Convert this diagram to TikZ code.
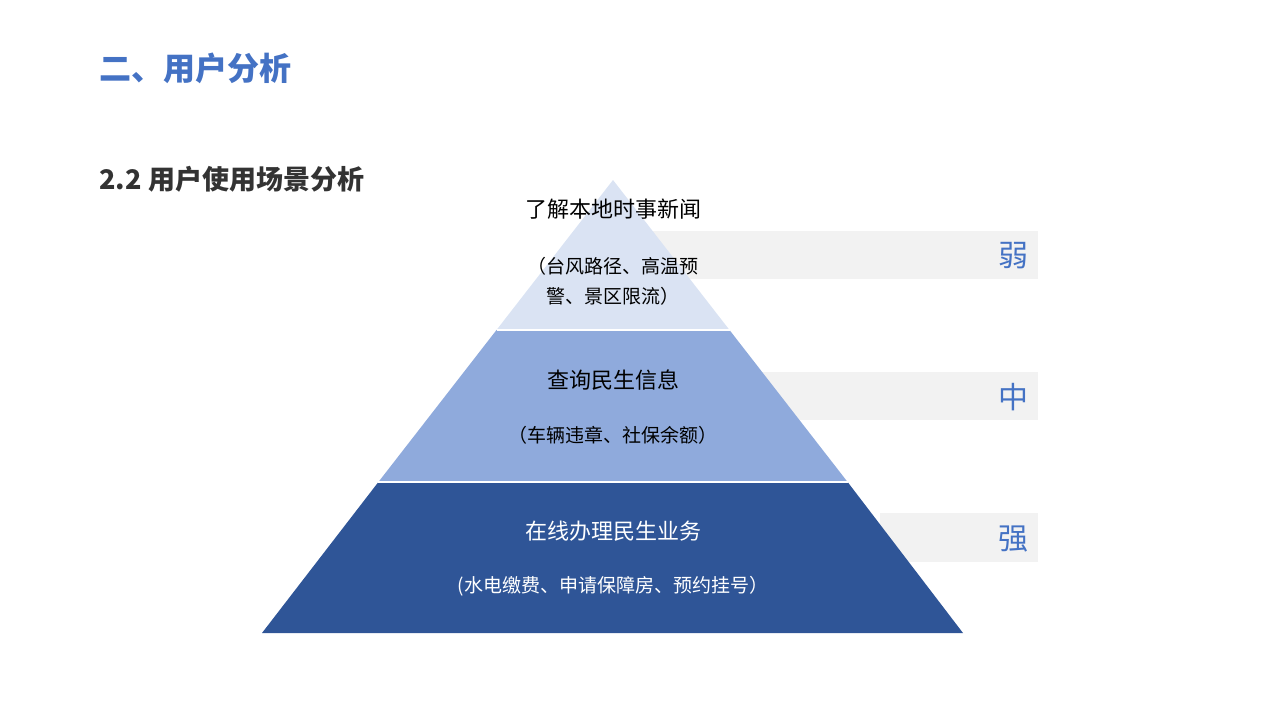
\documentclass[tikz,border=0pt]{standalone}
\usepackage{fontspec}
\setmainfont{Noto Sans CJK SC}
\definecolor{tblue}{HTML}{4472C4}
\definecolor{lay1}{HTML}{DAE3F3}
\definecolor{lay2}{HTML}{8FAADC}
\definecolor{lay3}{HTML}{2F5597}
\definecolor{barg}{HTML}{F2F2F2}
\begin{document}
\begin{tikzpicture}[x=1pt,y=-1pt,
  bar/.style={fill=barg,draw=none},
  lvl/.style={text=tblue,font=\fontsize{30}{32}\selectfont},
  head/.style={font=\fontsize{22}{26}\selectfont},
  sub/.style={font=\fontsize{19}{30}\selectfont,align=center}]
\useasboundingbox (0,0) rectangle (1280,720);
\node[anchor=west,text=tblue,font=\bfseries\fontsize{32}{36}\selectfont] (t) at (96,68) {二、用户分析};
\node[anchor=west,text=black!80,font=\bfseries\fontsize{27}{30}\selectfont] (s) at (96,179) {2.2 用户使用场景分析};
% bars
\fill[bar] (613,231) rectangle (1038,279);
\fill[bar] (613,372) rectangle (1038,420);
\fill[bar] (880,513) rectangle (1038,562);
\node[lvl] (w) at (1013,256) {弱};
\node[lvl] (m) at (1013,397) {中};
\node[lvl] (q) at (1013,539) {强};
% pyramid
\fill[lay1] (613,180) -- (729.5,330) -- (496.5,330) -- cycle;
\fill[lay2] (496.5,330) -- (729.5,330) -- (847.6,482) -- (378.4,482) -- cycle;
\fill[lay3] (378.4,482) -- (847.6,482) -- (963,633) -- (262,633) -- cycle;
\draw[white,line width=1.5pt] (496.5,330) -- (729.5,330);
\draw[white,line width=1.5pt] (378.4,482) -- (847.6,482);
\node[head] (a1) at (613,209) {了解本地时事新闻};
\node[sub] (a2) at (613,281) {（台风路径、高温预\\警、景区限流）};
\node[head] (b1) at (613,380) {查询民生信息};
\node[sub] (b2) at (613,435) {（车辆违章、社保余额）};
\node[head,text=white] (c1) at (613,531) {在线办理民生业务};
\node[sub,text=white] (c2) at (613,586) {(水电缴费、申请保障房、预约挂号）};
\end{tikzpicture}
\end{document}
